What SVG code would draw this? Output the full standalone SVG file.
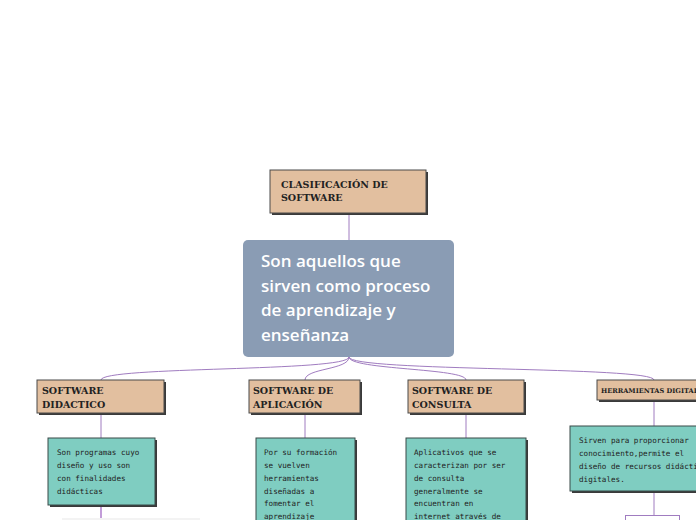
<svg xmlns="http://www.w3.org/2000/svg" width="696" height="520" viewBox="0 0 696 520">
<style>
.t{fill:#e2bf9f;stroke:#4a4a4a;stroke-width:1}
.sh{fill:#3a3a3a}
.b{fill:#7fcdc1;stroke:#3a4a48;stroke-width:1}
.tt{font-family:"DejaVu Serif",serif;font-weight:bold;font-size:9.5px;fill:#222}
.bt{font-family:"DejaVu Sans Mono","Liberation Mono",monospace;font-size:7.6px;fill:#222}
.c{fill:none;stroke:#a07cc0;stroke-width:1}
</style>
<rect width="696" height="520" fill="#fff"/>
<g id="connectors">
<path class="c" d="M349 213 V240"/>
<path class="c" d="M349 357 C349 372 101 366 101 380"/>
<path class="c" d="M349 357 C349 370 305 368 305 380"/>
<path class="c" d="M349 357 C349 370 466 368 466 380"/>
<path class="c" d="M349 357 C349 372 654 366 654 380"/>
<path class="c" d="M101 413 V438 M305 413 V438 M466 413 V438 M654 400 V426 M654 491 V515"/>
<path d="M101 505 V520" stroke="#9a5cc0" stroke-width="1.2"/>
</g>
<g id="n-top"><rect class="sh" x="272" y="172" width="156" height="43"/><rect class="t" x="270" y="170" width="156" height="43"/>
<text class="tt" x="281" y="188">CLASIFICACIÓN DE</text><text class="tt" x="281" y="201">SOFTWARE</text></g>
<g id="n-main"><rect x="243" y="240" width="211" height="117" rx="5" fill="#8a9cb4"/>
<text font-family="'Open Sans',sans-serif" font-size="17" font-weight="600" fill="#fff"><tspan x="261" y="267">Son aquellos que</tspan><tspan x="261" y="292">sirven como proceso</tspan><tspan x="261" y="316">de aprendizaje y</tspan><tspan x="261" y="341">enseñanza</tspan></text></g>
<g id="n-did"><rect class="sh" x="39" y="382" width="127" height="33"/><rect class="t" x="37" y="380" width="127" height="33"/>
<text class="tt" x="42" y="394">SOFTWARE</text><text class="tt" x="42" y="408">DIDACTICO</text></g>
<g id="n-apl"><rect class="sh" x="251" y="382" width="111" height="33"/><rect class="t" x="249" y="380" width="111" height="33"/>
<text class="tt" x="253" y="394">SOFTWARE DE</text><text class="tt" x="253" y="408">APLICACIÓN</text></g>
<g id="n-con"><rect class="sh" x="410" y="382" width="116" height="33"/><rect class="t" x="408" y="380" width="116" height="33"/>
<text class="tt" x="412" y="394">SOFTWARE DE</text><text class="tt" x="412" y="408">CONSULTA</text></g>
<g id="n-her"><rect class="sh" x="599" y="382" width="100" height="20"/><rect class="t" x="597" y="380" width="102" height="20"/>
<text class="tt" x="601" y="393" style="font-size:6.6px">HERRAMIENTAS DIGITALES</text></g>
<g id="b-did"><rect class="sh" x="50" y="440" width="107" height="67"/><rect class="b" x="48" y="438" width="107" height="67"/>
<text class="bt"><tspan x="57" y="455">Son programas cuyo</tspan><tspan x="57" y="468">diseño y uso son</tspan><tspan x="57" y="481">con finalidades</tspan><tspan x="57" y="494">didácticas</tspan></text></g>
<g id="b-apl"><rect class="sh" x="258" y="440" width="99" height="85"/><rect class="b" x="256" y="438" width="99" height="85"/>
<text class="bt"><tspan x="264" y="455">Por su formación</tspan><tspan x="264" y="468">se vuelven</tspan><tspan x="264" y="481">herramientas</tspan><tspan x="264" y="494">diseñadas a</tspan><tspan x="264" y="506">fomentar el</tspan><tspan x="264" y="519">aprendizaje</tspan></text></g>
<g id="b-con"><rect class="sh" x="408" y="440" width="120" height="85"/><rect class="b" x="406" y="438" width="120" height="85"/>
<text class="bt"><tspan x="414" y="455">Aplicativos que se</tspan><tspan x="414" y="468">caracterizan por ser</tspan><tspan x="414" y="481">de consulta</tspan><tspan x="414" y="494">generalmente se</tspan><tspan x="414" y="506">encuentran en</tspan><tspan x="414" y="519">internet através de</tspan></text></g>
<g id="b-her"><rect class="sh" x="572" y="428" width="130" height="65"/><rect class="b" x="570" y="426" width="130" height="65"/>
<text class="bt"><tspan x="579" y="443">Sirven para proporcionar</tspan><tspan x="579" y="456">conocimiento,permite el</tspan><tspan x="579" y="469">diseño de recursos didácticos</tspan><tspan x="579" y="482">digitales.</tspan></text></g>
<g id="n-w1"><rect x="62" y="518" width="138" height="4" fill="#f3f3f3"/></g>
<g id="n-w2"><rect x="625.5" y="515.5" width="54" height="10" fill="#fff" stroke="#a07cc0"/></g>
</svg>
